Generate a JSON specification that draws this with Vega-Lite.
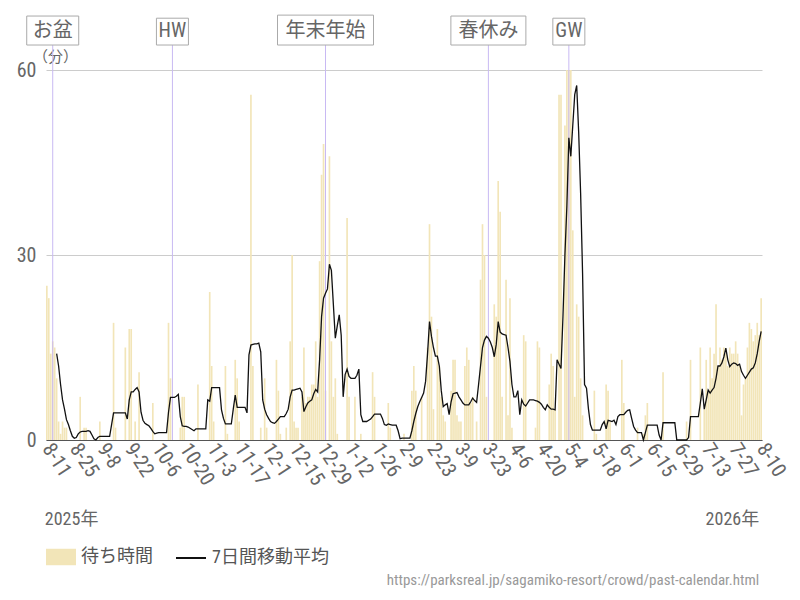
{
"$schema": "https://vega.github.io/schema/vega-lite/v6.json",
"width": 716, "height": 370,
"autosize": {"type": "none"},
"padding": {"left": 46, "top": 70, "right": 38, "bottom": 160},
"background": "white",
"config": {"font": "Roboto Condensed, Liberation Sans Narrow, Noto Sans CJK JP, sans-serif", "view": {"stroke": null}},
"datasets": {
"daily": [
{"d":"2025-08-11","w":25},{"d":"2025-08-12","w":23},{"d":"2025-08-13","w":14},{"d":"2025-08-14","w":16},{"d":"2025-08-15","w":15},
{"d":"2025-08-16","w":10,"ma":14},{"d":"2025-08-17","w":3,"ma":12},{"d":"2025-08-18","w":1,"ma":9},{"d":"2025-08-19","w":3,"ma":6.5},{"d":"2025-08-20","w":2,"ma":5},
{"d":"2025-08-21","w":2,"ma":3.3},{"d":"2025-08-22","w":0,"ma":2.5},{"d":"2025-08-23","w":0,"ma":1.5},{"d":"2025-08-24","w":0,"ma":0.6},{"d":"2025-08-25","w":0,"ma":0.3},
{"d":"2025-08-26","w":0,"ma":0.4},{"d":"2025-08-27","w":0,"ma":1},{"d":"2025-08-28","w":7,"ma":1.3},{"d":"2025-08-29","w":0,"ma":1.4},{"d":"2025-08-30","w":2,"ma":1.4},
{"d":"2025-08-31","w":2,"ma":1.4},{"d":"2025-09-01","w":0,"ma":1.5},{"d":"2025-09-02","w":0,"ma":1.4},{"d":"2025-09-03","w":0,"ma":0.8},{"d":"2025-09-04","w":0,"ma":0.2},
{"d":"2025-09-05","w":0,"ma":0},{"d":"2025-09-06","w":0,"ma":0.4},{"d":"2025-09-07","w":3,"ma":0.6},{"d":"2025-09-08","w":0,"ma":0.6},{"d":"2025-09-09","w":0,"ma":0.6},
{"d":"2025-09-10","w":0,"ma":0.6},{"d":"2025-09-11","w":0,"ma":0.6},{"d":"2025-09-12","w":0,"ma":0.6},{"d":"2025-09-13","w":0,"ma":2.5},{"d":"2025-09-14","w":19,"ma":4.4},
{"d":"2025-09-15","w":2,"ma":4.4},{"d":"2025-09-16","w":0,"ma":4.4},{"d":"2025-09-17","w":0,"ma":4.4},{"d":"2025-09-18","w":0,"ma":4.4},{"d":"2025-09-19","w":0,"ma":4.4},
{"d":"2025-09-20","w":15,"ma":4.4},{"d":"2025-09-21","w":0,"ma":3.4},{"d":"2025-09-22","w":18,"ma":6.5},{"d":"2025-09-23","w":18,"ma":7.8},{"d":"2025-09-24","w":0,"ma":7.8},
{"d":"2025-09-25","w":3,"ma":8.2},{"d":"2025-09-26","w":0,"ma":8.5},{"d":"2025-09-27","w":11,"ma":7.8},{"d":"2025-09-28","w":0,"ma":4.5},{"d":"2025-09-29","w":0,"ma":3.2},
{"d":"2025-09-30","w":0,"ma":2.7},{"d":"2025-10-01","w":0,"ma":2.5},{"d":"2025-10-02","w":0,"ma":2.3},{"d":"2025-10-03","w":0,"ma":1.9},{"d":"2025-10-04","w":6,"ma":1.4},
{"d":"2025-10-05","w":0,"ma":1},{"d":"2025-10-06","w":0,"ma":1.1},{"d":"2025-10-07","w":0,"ma":1.2},{"d":"2025-10-08","w":0,"ma":1.2},{"d":"2025-10-09","w":0,"ma":1.2},
{"d":"2025-10-10","w":0,"ma":1.2},{"d":"2025-10-11","w":0,"ma":1.2},{"d":"2025-10-12","w":19,"ma":4.5},{"d":"2025-10-13","w":10,"ma":6.9},{"d":"2025-10-14","w":0,"ma":6.9},
{"d":"2025-10-15","w":0,"ma":6.9},{"d":"2025-10-16","w":0,"ma":7.1},{"d":"2025-10-17","w":0,"ma":7.4},{"d":"2025-10-18","w":2,"ma":3.8},{"d":"2025-10-19","w":7,"ma":2.3},
{"d":"2025-10-20","w":7,"ma":2.2},{"d":"2025-10-21","w":0,"ma":2.2},{"d":"2025-10-22","w":0,"ma":2.1},{"d":"2025-10-23","w":0,"ma":1.9},{"d":"2025-10-24","w":0,"ma":1.7},
{"d":"2025-10-25","w":0,"ma":1.5},{"d":"2025-10-26","w":0,"ma":1.8},{"d":"2025-10-27","w":9,"ma":1.8},{"d":"2025-10-28","w":0,"ma":1.8},{"d":"2025-10-29","w":0,"ma":1.8},
{"d":"2025-10-30","w":0,"ma":1.8},{"d":"2025-10-31","w":0,"ma":1.8},{"d":"2025-11-01","w":0,"ma":6.5},{"d":"2025-11-02","w":24,"ma":6.3},{"d":"2025-11-03","w":12,"ma":8.5},
{"d":"2025-11-04","w":3,"ma":8.5},{"d":"2025-11-05","w":0,"ma":8.5},{"d":"2025-11-06","w":0,"ma":8.5},{"d":"2025-11-07","w":0,"ma":8.5},{"d":"2025-11-08","w":0,"ma":4.9},
{"d":"2025-11-09","w":0,"ma":3.5},{"d":"2025-11-10","w":12,"ma":2.6},{"d":"2025-11-11","w":1,"ma":2.6},{"d":"2025-11-12","w":0,"ma":2.6},{"d":"2025-11-13","w":0,"ma":2.6},
{"d":"2025-11-14","w":0,"ma":5},{"d":"2025-11-15","w":13,"ma":7.3},{"d":"2025-11-16","w":10,"ma":5.3},{"d":"2025-11-17","w":3,"ma":5.3},{"d":"2025-11-18","w":0,"ma":5.3},
{"d":"2025-11-19","w":0,"ma":5.3},{"d":"2025-11-20","w":0,"ma":5.3},{"d":"2025-11-21","w":0,"ma":4.4},{"d":"2025-11-22","w":0,"ma":13.8},{"d":"2025-11-23","w":56,"ma":15.4},
{"d":"2025-11-24","w":12,"ma":15.5},{"d":"2025-11-25","w":0,"ma":15.6},{"d":"2025-11-26","w":0,"ma":15.6},{"d":"2025-11-27","w":0,"ma":15.7},{"d":"2025-11-28","w":2,"ma":14.3},
{"d":"2025-11-29","w":0,"ma":6.5},{"d":"2025-11-30","w":10,"ma":5},{"d":"2025-12-01","w":2,"ma":4.1},{"d":"2025-12-02","w":0,"ma":3.5},{"d":"2025-12-03","w":0,"ma":3},
{"d":"2025-12-04","w":0,"ma":2.8},{"d":"2025-12-05","w":0,"ma":2.7},{"d":"2025-12-06","w":13,"ma":3},{"d":"2025-12-07","w":8,"ma":3.4},{"d":"2025-12-08","w":1,"ma":3.8},
{"d":"2025-12-09","w":0,"ma":3.8},{"d":"2025-12-10","w":0,"ma":3.8},{"d":"2025-12-11","w":2,"ma":4.3},{"d":"2025-12-12","w":0,"ma":5},{"d":"2025-12-13","w":16,"ma":7},
{"d":"2025-12-14","w":30,"ma":8.1},{"d":"2025-12-15","w":3,"ma":8.1},{"d":"2025-12-16","w":2,"ma":8.2},{"d":"2025-12-17","w":2,"ma":8.3},{"d":"2025-12-18","w":0,"ma":8.4},
{"d":"2025-12-19","w":7,"ma":7.8},{"d":"2025-12-20","w":15,"ma":4.6},{"d":"2025-12-21","w":6,"ma":5.4},{"d":"2025-12-22","w":7,"ma":6},{"d":"2025-12-23","w":7,"ma":6.3},
{"d":"2025-12-24","w":9,"ma":6.5},{"d":"2025-12-25","w":9,"ma":7.5},{"d":"2025-12-26","w":16,"ma":8.2},{"d":"2025-12-27","w":7,"ma":7.8},{"d":"2025-12-28","w":29,"ma":13},
{"d":"2025-12-29","w":43,"ma":20},{"d":"2025-12-30","w":48,"ma":23},{"d":"2025-12-31","w":8,"ma":23.8},{"d":"2026-01-01","w":0,"ma":24.5},{"d":"2026-01-02","w":46,"ma":28.5},
{"d":"2026-01-03","w":16,"ma":27.5},{"d":"2026-01-04","w":7,"ma":22},{"d":"2026-01-05","w":10,"ma":16.5},{"d":"2026-01-06","w":1,"ma":18.5},{"d":"2026-01-07","w":0,"ma":20.3},
{"d":"2026-01-08","w":0,"ma":17},{"d":"2026-01-09","w":0,"ma":7},{"d":"2026-01-10","w":0,"ma":10.6},{"d":"2026-01-11","w":36,"ma":11.5},{"d":"2026-01-12","w":7,"ma":10.3},
{"d":"2026-01-13","w":0,"ma":10},{"d":"2026-01-14","w":0,"ma":10},{"d":"2026-01-15","w":7,"ma":10},{"d":"2026-01-16","w":0,"ma":10.5},{"d":"2026-01-17","w":0,"ma":11.5},
{"d":"2026-01-18","w":1,"ma":4.1},{"d":"2026-01-19","w":0,"ma":3},{"d":"2026-01-20","w":0,"ma":3},{"d":"2026-01-21","w":0,"ma":3},{"d":"2026-01-22","w":0,"ma":3.2},
{"d":"2026-01-23","w":0,"ma":3.4},{"d":"2026-01-24","w":11,"ma":3.8},{"d":"2026-01-25","w":7,"ma":4.2},{"d":"2026-01-26","w":0,"ma":4.2},{"d":"2026-01-27","w":0,"ma":4.2},
{"d":"2026-01-28","w":0,"ma":4.2},{"d":"2026-01-29","w":0,"ma":3.5},{"d":"2026-01-30","w":0,"ma":2.5},{"d":"2026-01-31","w":0,"ma":2.4},{"d":"2026-02-01","w":6,"ma":2.6},
{"d":"2026-02-02","w":2,"ma":2.5},{"d":"2026-02-03","w":0,"ma":2.4},{"d":"2026-02-04","w":0,"ma":2.4},{"d":"2026-02-05","w":0,"ma":2.4},{"d":"2026-02-06","w":0,"ma":1.5},
{"d":"2026-02-07","w":0,"ma":0.2},{"d":"2026-02-08","w":0,"ma":0.3},{"d":"2026-02-09","w":1,"ma":0.3},{"d":"2026-02-10","w":0,"ma":0.3},{"d":"2026-02-11","w":0,"ma":0.3},
{"d":"2026-02-12","w":0,"ma":0.3},{"d":"2026-02-13","w":8,"ma":1.5},{"d":"2026-02-14","w":12,"ma":3},{"d":"2026-02-15","w":8,"ma":4.3},{"d":"2026-02-16","w":0,"ma":5.4},
{"d":"2026-02-17","w":0,"ma":6.2},{"d":"2026-02-18","w":7,"ma":6.9},{"d":"2026-02-19","w":0,"ma":7.6},{"d":"2026-02-20","w":0,"ma":9.5},{"d":"2026-02-21","w":15,"ma":14},
{"d":"2026-02-22","w":35,"ma":19.2},{"d":"2026-02-23","w":20,"ma":16.8},{"d":"2026-02-24","w":5,"ma":15},{"d":"2026-02-25","w":0,"ma":13.6},{"d":"2026-02-26","w":18,"ma":13.6},
{"d":"2026-02-27","w":12,"ma":12},{"d":"2026-02-28","w":7,"ma":8},{"d":"2026-03-01","w":4,"ma":5.4},{"d":"2026-03-02","w":3,"ma":5.7},{"d":"2026-03-03","w":0,"ma":5.9},
{"d":"2026-03-04","w":0,"ma":4.1},{"d":"2026-03-05","w":8,"ma":6.2},{"d":"2026-03-06","w":13,"ma":7.5},{"d":"2026-03-07","w":13,"ma":7.6},{"d":"2026-03-08","w":4,"ma":7.7},
{"d":"2026-03-09","w":3,"ma":7},{"d":"2026-03-10","w":3,"ma":6.5},{"d":"2026-03-11","w":0,"ma":6},{"d":"2026-03-12","w":12,"ma":5.7},{"d":"2026-03-13","w":15,"ma":5.7},
{"d":"2026-03-14","w":13,"ma":5.7},{"d":"2026-03-15","w":6,"ma":6.2},{"d":"2026-03-16","w":7,"ma":6.8},{"d":"2026-03-17","w":0,"ma":6.4},{"d":"2026-03-18","w":3,"ma":6.1},
{"d":"2026-03-19","w":0,"ma":9},{"d":"2026-03-20","w":26,"ma":12},{"d":"2026-03-21","w":35,"ma":15},{"d":"2026-03-22","w":30,"ma":16.2},{"d":"2026-03-23","w":7,"ma":16.8},
{"d":"2026-03-24","w":0,"ma":16.5},{"d":"2026-03-25","w":0,"ma":15.9},{"d":"2026-03-26","w":0,"ma":15},{"d":"2026-03-27","w":22,"ma":13.5},{"d":"2026-03-28","w":20,"ma":15.5},
{"d":"2026-03-29","w":42,"ma":19.2},{"d":"2026-03-30","w":37,"ma":17.5},{"d":"2026-03-31","w":7,"ma":17.2},{"d":"2026-04-01","w":0,"ma":17.1},{"d":"2026-04-02","w":26,"ma":17},
{"d":"2026-04-03","w":4,"ma":15},{"d":"2026-04-04","w":23,"ma":12.7},{"d":"2026-04-05","w":2,"ma":9},{"d":"2026-04-06","w":0,"ma":7},{"d":"2026-04-07","w":0,"ma":7},
{"d":"2026-04-08","w":0,"ma":8},{"d":"2026-04-09","w":0,"ma":4.1},{"d":"2026-04-10","w":0,"ma":6.5},{"d":"2026-04-11","w":17,"ma":5.8},{"d":"2026-04-12","w":16,"ma":5.5},
{"d":"2026-04-13","w":0,"ma":6},{"d":"2026-04-14","w":0,"ma":6.5},{"d":"2026-04-15","w":0,"ma":6.5},{"d":"2026-04-16","w":0,"ma":6.5},{"d":"2026-04-17","w":2,"ma":6.4},
{"d":"2026-04-18","w":16,"ma":6.3},{"d":"2026-04-19","w":15,"ma":6.1},{"d":"2026-04-20","w":0,"ma":5.8},{"d":"2026-04-21","w":0,"ma":5.3},{"d":"2026-04-22","w":0,"ma":4.9},
{"d":"2026-04-23","w":0,"ma":5.7},{"d":"2026-04-24","w":9,"ma":5.3},{"d":"2026-04-25","w":14,"ma":5},{"d":"2026-04-26","w":12,"ma":5},{"d":"2026-04-27","w":5,"ma":4.9},
{"d":"2026-04-28","w":0,"ma":13},{"d":"2026-04-29","w":56,"ma":12.3},{"d":"2026-04-30","w":56,"ma":11.6},{"d":"2026-05-01","w":0,"ma":20},{"d":"2026-05-02","w":51,"ma":30},
{"d":"2026-05-03","w":60,"ma":38},{"d":"2026-05-04","w":60,"ma":49},{"d":"2026-05-05","w":60,"ma":46},{"d":"2026-05-06","w":34,"ma":51},{"d":"2026-05-07","w":7,"ma":56},
{"d":"2026-05-08","w":22,"ma":57.5},{"d":"2026-05-09","w":20,"ma":50},{"d":"2026-05-10","w":10,"ma":40},{"d":"2026-05-11","w":4,"ma":27},{"d":"2026-05-12","w":0,"ma":9},
{"d":"2026-05-13","w":0,"ma":8.4},{"d":"2026-05-14","w":0,"ma":5},{"d":"2026-05-15","w":0,"ma":2.5},{"d":"2026-05-16","w":0,"ma":1.6},{"d":"2026-05-17","w":8,"ma":1.6},
{"d":"2026-05-18","w":1,"ma":1.6},{"d":"2026-05-19","w":0,"ma":1.6},{"d":"2026-05-20","w":0,"ma":1.6},{"d":"2026-05-21","w":0,"ma":2.5},{"d":"2026-05-22","w":0,"ma":3},
{"d":"2026-05-23","w":9,"ma":1.8},{"d":"2026-05-24","w":8,"ma":3.2},{"d":"2026-05-25","w":3,"ma":3.1},{"d":"2026-05-26","w":0,"ma":3},{"d":"2026-05-27","w":0,"ma":3.2},
{"d":"2026-05-28","w":0,"ma":2.5},{"d":"2026-05-29","w":0,"ma":3.8},{"d":"2026-05-30","w":0,"ma":4.1},{"d":"2026-05-31","w":13,"ma":4.1},{"d":"2026-06-01","w":6,"ma":4.1},
{"d":"2026-06-02","w":0,"ma":4.5},{"d":"2026-06-03","w":0,"ma":4.8},{"d":"2026-06-04","w":0,"ma":4.9},{"d":"2026-06-05","w":0,"ma":3.5},{"d":"2026-06-06","w":0,"ma":2.2},
{"d":"2026-06-07","w":0,"ma":1.6},{"d":"2026-06-08","w":2,"ma":1.2},{"d":"2026-06-09","w":0,"ma":1.2},{"d":"2026-06-10","w":0,"ma":1.2},{"d":"2026-06-11","w":1,"ma":0},
{"d":"2026-06-12","w":4,"ma":1.2},{"d":"2026-06-13","w":6,"ma":2.4},{"d":"2026-06-14","w":0,"ma":2.4},{"d":"2026-06-15","w":0,"ma":2.4},{"d":"2026-06-16","w":0,"ma":2.4},
{"d":"2026-06-17","w":0,"ma":2.4},{"d":"2026-06-18","w":0,"ma":2.4},{"d":"2026-06-19","w":0,"ma":0.8},{"d":"2026-06-20","w":0,"ma":0},{"d":"2026-06-21","w":11,"ma":2.8},
{"d":"2026-06-22","w":0,"ma":2.8},{"d":"2026-06-23","w":0,"ma":2.8},{"d":"2026-06-24","w":0,"ma":2.8},{"d":"2026-06-25","w":0,"ma":2.8},{"d":"2026-06-26","w":0,"ma":2.8},
{"d":"2026-06-27","w":0,"ma":2.8},{"d":"2026-06-28","w":0,"ma":0},{"d":"2026-06-29","w":0,"ma":0},{"d":"2026-06-30","w":0,"ma":0},{"d":"2026-07-01","w":0,"ma":0},
{"d":"2026-07-02","w":0,"ma":0},{"d":"2026-07-03","w":3,"ma":0},{"d":"2026-07-04","w":0,"ma":0.4},{"d":"2026-07-05","w":13,"ma":3.8},{"d":"2026-07-06","w":0,"ma":3.8},
{"d":"2026-07-07","w":0,"ma":3.8},{"d":"2026-07-08","w":0,"ma":3.8},{"d":"2026-07-09","w":0,"ma":3.8},{"d":"2026-07-10","w":15,"ma":6},{"d":"2026-07-11","w":0,"ma":8.3},
{"d":"2026-07-12","w":5,"ma":5},{"d":"2026-07-13","w":13,"ma":6.5},{"d":"2026-07-14","w":8,"ma":8.1},{"d":"2026-07-15","w":15,"ma":7.6},{"d":"2026-07-16","w":10,"ma":8.1},
{"d":"2026-07-17","w":14,"ma":8.5},{"d":"2026-07-18","w":22,"ma":10},{"d":"2026-07-19","w":12,"ma":12},{"d":"2026-07-20","w":15,"ma":12},{"d":"2026-07-21","w":13,"ma":12.5},
{"d":"2026-07-22","w":15,"ma":13.5},{"d":"2026-07-23","w":14,"ma":14.9},{"d":"2026-07-24","w":12,"ma":13},{"d":"2026-07-25","w":15,"ma":11.9},{"d":"2026-07-26","w":14,"ma":12.3},
{"d":"2026-07-27","w":14,"ma":12.5},{"d":"2026-07-28","w":16,"ma":12.4},{"d":"2026-07-29","w":14,"ma":12.1},{"d":"2026-07-30","w":12,"ma":12.3},{"d":"2026-07-31","w":4,"ma":11.1},
{"d":"2026-08-01","w":9,"ma":10.5},{"d":"2026-08-02","w":10,"ma":10},{"d":"2026-08-03","w":15,"ma":10.5},{"d":"2026-08-04","w":19,"ma":11},{"d":"2026-08-05","w":18,"ma":11.5},
{"d":"2026-08-06","w":16,"ma":11.7},{"d":"2026-08-07","w":17,"ma":12.5},{"d":"2026-08-08","w":19,"ma":14},{"d":"2026-08-09","w":17,"ma":16},{"d":"2026-08-10","w":23,"ma":17.6}
],
"events": [
{"d":"2025-08-14","label":"お盆"},
{"d":"2025-10-14","label":"HW"},
{"d":"2025-12-31","label":"年末年始"},
{"d":"2026-03-24","label":"春休み"},
{"d":"2026-05-04","label":"GW"}
]
},
"encoding": {
"x": {"field": "d", "type": "ordinal", "scale": {"paddingInner": 0.15, "paddingOuter": 0},
 "axis": {"title": null, "values": ["2025-08-11","2025-08-25","2025-09-08","2025-09-22","2025-10-06","2025-10-20","2025-11-03","2025-11-17","2025-12-01","2025-12-15","2025-12-29","2026-01-12","2026-01-26","2026-02-09","2026-02-23","2026-03-09","2026-03-23","2026-04-06","2026-04-20","2026-05-04","2026-05-18","2026-06-01","2026-06-15","2026-06-29","2026-07-13","2026-07-27","2026-08-10"],
  "labelExpr": "toNumber(slice(datum.value, 5, 7)) + '-' + toNumber(slice(datum.value, 8, 10))",
  "labelAngle": 57, "labelAlign": "left", "labelBaseline": "middle", "labelFontSize": 20.5, "labelColor": "#666", "labelPadding": 5,
  "labelOverlap": false, "labelBound": false, "ticks": false, "domainColor": "#555", "domainWidth": 1, "grid": false}}
},
"layer": [
{"data": {"name": "daily"},
 "mark": {"type": "bar", "clip": true},
 "encoding": {
  "y": {"field": "w", "type": "quantitative", "scale": {"domain": [0, 60], "nice": false},
   "axis": {"values": [0, 30, 60], "grid": true, "gridColor": "#cccccc", "domain": false, "ticks": false, "labelFontSize": 20, "labelColor": "#666", "labelPadding": 10,
    "title": "（分）", "titleAngle": 0, "titleFontSize": 15, "titleFontWeight": "normal", "titleColor": "#666", "titleX": 9, "titleY": -14, "titleAlign": "center", "titleBaseline": "middle"}},
  "fill": {"datum": "待ち時間", "type": "nominal", "scale": {"range": ["#f2e5b8"]},
   "legend": {"orient": "none", "legendX": 0, "legendY": 472, "title": null, "symbolType": "M-1,-0.55L1,-0.55L1,0.55L-1,0.55Z", "symbolSize": 900, "symbolStrokeWidth": 0, "labelFontSize": 18, "labelColor": "#555", "labelOffset": 5}}
 }},
{"data": {"name": "events"},
 "mark": {"type": "rule", "color": "#c8b9f3", "strokeWidth": 1},
 "encoding": {"y": {"datum": 0}, "y2": {"datum": 64.05}}},
{"data": {"name": "daily"},
 "mark": {"type": "line", "strokeWidth": 1.3, "interpolate": "linear"},
 "encoding": {
  "y": {"field": "ma", "type": "quantitative"},
  "stroke": {"datum": "7日間移動平均", "type": "nominal", "scale": {"range": ["#111111"]},
   "legend": {"orient": "none", "legendX": 129, "legendY": 472, "title": null, "symbolType": "stroke", "symbolSize": 900, "symbolStrokeWidth": 2, "labelFontSize": 18, "labelColor": "#555", "labelOffset": 5}}
 }},
{"data": {"name": "events"}, "transform": [{"filter": "datum.label == 'お盆'"}],
 "mark": {"type": "bar", "width": 52, "fill": "white", "stroke": "#aaaaaa", "strokeWidth": 1},
 "encoding": {"y": {"datum": 64.05}, "y2": {"datum": 68.75}}},
{"data": {"name": "events"}, "transform": [{"filter": "datum.label == 'HW'"}],
 "mark": {"type": "bar", "width": 32, "fill": "white", "stroke": "#aaaaaa", "strokeWidth": 1},
 "encoding": {"y": {"datum": 64.05}, "y2": {"datum": 68.4}}},
{"data": {"name": "events"}, "transform": [{"filter": "datum.label == '年末年始'"}],
 "mark": {"type": "bar", "width": 96, "fill": "white", "stroke": "#aaaaaa", "strokeWidth": 1},
 "encoding": {"y": {"datum": 64.05}, "y2": {"datum": 68.9}}},
{"data": {"name": "events"}, "transform": [{"filter": "datum.label == '春休み'"}],
 "mark": {"type": "bar", "width": 75, "fill": "white", "stroke": "#aaaaaa", "strokeWidth": 1},
 "encoding": {"y": {"datum": 64.05}, "y2": {"datum": 68.75}}},
{"data": {"name": "events"}, "transform": [{"filter": "datum.label == 'GW'"}],
 "mark": {"type": "bar", "width": 32, "fill": "white", "stroke": "#aaaaaa", "strokeWidth": 1},
 "encoding": {"y": {"datum": 64.05}, "y2": {"datum": 68.4}}},
{"data": {"name": "events"},
 "mark": {"type": "text", "fontSize": 20, "color": "#666", "baseline": "middle", "align": "center"},
 "encoding": {"y": {"datum": 66.4}, "text": {"field": "label"}}},
{"data": {"values": [{"d": "2025-08-11", "t": "2025年"}]},
 "mark": {"type": "text", "fontSize": 18, "color": "#666", "align": "left", "baseline": "middle", "dx": -2},
 "encoding": {"y": {"datum": -13}, "text": {"field": "t"}}},
{"data": {"values": [{"d": "2026-08-10", "t": "2026年"}]},
 "mark": {"type": "text", "fontSize": 18, "color": "#666", "align": "right", "baseline": "middle", "dx": -2},
 "encoding": {"y": {"datum": -13}, "text": {"field": "t"}}},
{"data": {"values": [{"d": "2026-08-10", "t": "https://parksreal.jp/sagamiko-resort/crowd/past-calendar.html"}]},
 "mark": {"type": "text", "fontSize": 15, "color": "#999", "align": "right", "baseline": "middle", "dx": -2},
 "encoding": {"y": {"datum": -22.7}, "text": {"field": "t"}}}
]
}
